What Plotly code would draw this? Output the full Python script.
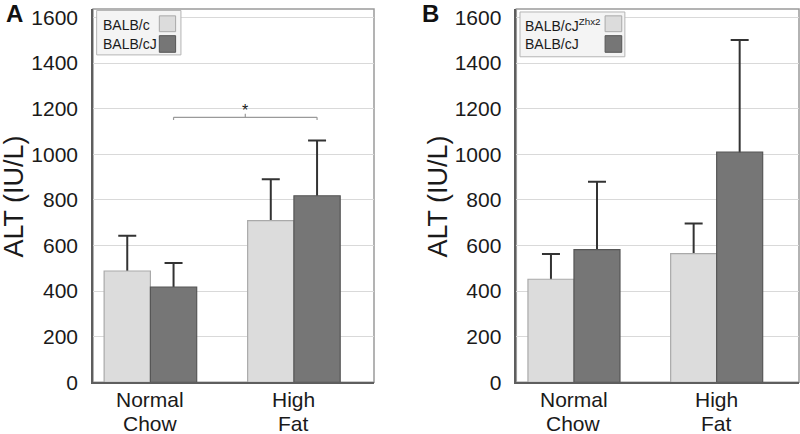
import plotly.graph_objects as go

# ---------------- data ----------------
categories = ["Normal Chow", "High Fat"]
tick_labels = ["Normal<br>Chow", "High<br>Fat"]

# Panel A
a_names = ["BALB/c", "BALB/cJ"]
a_light_mean = [488, 709]
a_light_err = [155, 181]
a_dark_mean = [418, 818]
a_dark_err = [105, 242]

# Panel B
b_names = ["BALB/cJ<sup>Zhx2</sup>", "BALB/cJ"]
b_light_mean = [452, 564]
b_light_err = [111, 132]
b_dark_mean = [582, 1009]
b_dark_err = [297, 492]

sig_level = 1162  # significance bracket level in panel A
y_ticks = [0, 200, 400, 600, 800, 1000, 1200, 1400, 1600]

# ---------------- style ----------------
FONT = "Liberation Sans, Arial, sans-serif"
LIGHT = "#dcdcdc"
LIGHT_EDGE = "#a9a9a9"
DARK = "#767676"
DARK_EDGE = "#565656"
ERR = "#333333"
BAR_W = 0.3225
YMAX = 1637
xpos = list(range(len(categories)))

fig = go.Figure()


def add_bars(xa, ya, light_mean, light_err, dark_mean, dark_err, names):
    groups = [
        (light_mean, light_err, LIGHT, LIGHT_EDGE, names[0], -BAR_W),
        (dark_mean, dark_err, DARK, DARK_EDGE, names[1], 0.0),
    ]
    # error bars first (symmetric), so the opaque bars drawn afterwards hide the lower half
    for mean, err, fill, edge, name, off in groups:
        fig.add_trace(go.Bar(
            x=xpos, y=mean, name=name + " SD", xaxis=xa, yaxis=ya, showlegend=False,
            width=BAR_W, offset=off, hoverinfo="skip",
            marker=dict(color="rgba(0,0,0,0)", line=dict(width=0)),
            error_y=dict(type="data", array=err, symmetric=True,
                         color=ERR, thickness=2, width=9),
        ))
    for mean, err, fill, edge, name, off in groups:
        fig.add_trace(go.Bar(
            x=xpos, y=mean, name=name, xaxis=xa, yaxis=ya, showlegend=False,
            width=BAR_W, offset=off,
            marker=dict(color=fill, line=dict(color=edge, width=1.2)),
        ))


add_bars("x", "y", a_light_mean, a_light_err, a_dark_mean, a_dark_err, a_names)
add_bars("x2", "y2", b_light_mean, b_light_err, b_dark_mean, b_dark_err, b_names)

dom_y = [0.1191, 0.9793]
axis_common = dict(showgrid=False, zeroline=False, showline=True, automargin=False,
                   linecolor="#5e5e5e", linewidth=1.5, ticks="",
                   tickfont=dict(family=FONT, size=21, color="#1a1a1a"))
yaxis_common = dict(axis_common, showgrid=True, gridcolor="#d9d9d9", gridwidth=1,
                    range=[0, YMAX], tickvals=y_ticks, ticklabelstandoff=9)
# category labels are drawn below as two tight lines (annotations)
xaxis_common = dict(axis_common, tickvals=xpos, showticklabels=False)

fig.update_layout(
    template="none",
    width=800, height=434, autosize=False,
    margin=dict(l=0, r=0, t=0, b=0, pad=0),
    paper_bgcolor="white", plot_bgcolor="white",
    barmode="overlay", showlegend=False,
    font=dict(family=FONT, color="#1a1a1a"),
    xaxis=dict(xaxis_common, domain=[0.11625, 0.4675], range=[-0.40, 1.558], anchor="y"),
    yaxis=dict(yaxis_common, domain=dom_y, anchor="x"),
    xaxis2=dict(xaxis_common, domain=[0.6454, 0.99875], range=[-0.404, 1.577], anchor="y2"),
    yaxis2=dict(yaxis_common, domain=dom_y, anchor="x2"),
)

shapes = []
annotations = []

# light frame (top/right)
for xr, yr in [("x domain", "y domain"), ("x2 domain", "y2 domain")]:
    shapes.append(dict(type="rect", xref=xr, yref=yr, x0=0, x1=1, y0=0, y1=1,
                       line=dict(color="#9a9a9a", width=1.5), layer="below"))

# category tick labels (two lines each)
for xr in ["x", "x2"]:
    for xi, lab in zip(xpos, tick_labels):
        for line, yp in zip(lab.split("<br>"), [0.0800, 0.0247]):
            annotations.append(dict(xref=xr, yref="paper", x=xi, y=yp, text=line,
                                    showarrow=False, xanchor="center", yanchor="middle",
                                    font=dict(family=FONT, size=21, color="#1a1a1a")))


# manual legends (swatches on the right, like the original)
def legend(xr, yr, names, box, sw_x, text_x):
    shapes.append(dict(type="rect", xref=xr, yref=yr, x0=box[0], x1=box[1],
                       y0=box[2], y1=box[3], fillcolor="#f4f4f4",
                       line=dict(color="#b5b5b5", width=1)))
    rows = [(0.9816, 0.9392, 0.958, LIGHT, LIGHT_EDGE),
            (0.9285, 0.884, 0.905, DARK, DARK_EDGE)]
    for name, (ytop, ybot, ytext, fill, edge) in zip(names, rows):
        shapes.append(dict(type="rect", xref=xr, yref=yr, x0=sw_x[0], x1=sw_x[1],
                           y0=ybot, y1=ytop, fillcolor=fill,
                           line=dict(color=edge, width=1)))
        annotations.append(dict(xref=xr, yref=yr, x=text_x, y=ytext, text=name,
                                showarrow=False, xanchor="left", yanchor="middle",
                                font=dict(family=FONT, size=14, color="#1a1a1a")))


legend("x domain", "y domain", a_names, (0.013, 0.313, 0.877, 0.996), (0.236, 0.294), 0.027)
legend("x2 domain", "y2 domain", b_names, (0.013, 0.384, 0.872, 0.992), (0.314, 0.373), 0.024)

# significance bracket: BALB/cJ Normal Chow vs BALB/cJ High Fat (panel A)
x_left = xpos[0] + BAR_W / 2
x_right = xpos[1] + BAR_W / 2
x_mid = (x_left + x_right) / 2
bc = "#9a9a9a"
shapes += [
    dict(type="line", xref="x", yref="y", x0=x_left, x1=x_right, y0=sig_level, y1=sig_level,
         line=dict(color=bc, width=1.2)),
    dict(type="line", xref="x", yref="y", x0=x_left, x1=x_left, y0=sig_level, y1=sig_level - 12,
         line=dict(color=bc, width=1.2)),
    dict(type="line", xref="x", yref="y", x0=x_right, x1=x_right, y0=sig_level, y1=sig_level - 12,
         line=dict(color=bc, width=1.2)),
    dict(type="line", xref="x", yref="y", x0=x_mid, x1=x_mid, y0=sig_level, y1=sig_level + 16,
         line=dict(color=bc, width=1.2)),
]
annotations.append(dict(xref="x", yref="y", x=x_mid, y=sig_level + 28, text="*",
                        showarrow=False, xanchor="center", yanchor="middle",
                        font=dict(family=FONT, size=16, color="#1a1a1a")))

# y-axis titles and panel letters
for xp in [0.0175, 0.5475]:
    annotations.append(dict(xref="paper", yref="paper", x=xp, y=0.547, text="ALT (IU/L)",
                            textangle=-90, showarrow=False,
                            xanchor="center", yanchor="middle",
                            font=dict(family=FONT, size=27, color="#1a1a1a")))
for xp, yp, letter in [(0.0175, 0.97, "A"), (0.5375, 0.968, "B")]:
    annotations.append(dict(xref="paper", yref="paper", x=xp, y=yp, text="<b>%s</b>" % letter,
                            showarrow=False, xanchor="center", yanchor="middle",
                            font=dict(family=FONT, size=24, color="#111111")))

fig.update_layout(shapes=shapes, annotations=annotations)
fig.write_html("out.html", config={"displayModeBar": False},
               post_script="document.body.style.margin='0';document.body.style.padding='0';")
